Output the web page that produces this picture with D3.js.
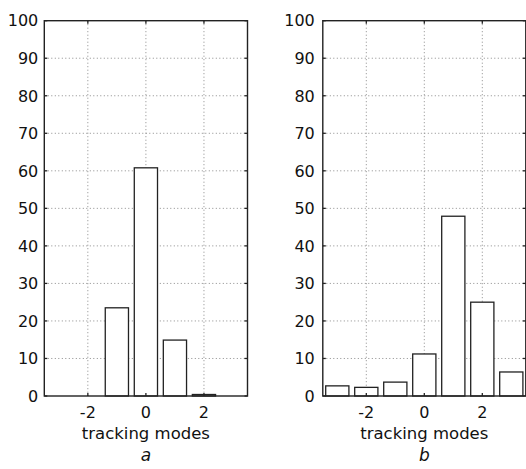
<!DOCTYPE html>
<html>
<head>
<meta charset="utf-8">
<script src="https://cdn.jsdelivr.net/npm/d3@7"></script>
<style>
  body { margin: 0; background: #fff; }
  svg { display: block; }
  text { font-family: "DejaVu Sans", sans-serif; fill: #111; }
</style>
</head>
<body>
<svg id="chart" width="526" height="469"></svg>
<script>
// tracking modes on the x axis
const modes = [-3, -2, -1, 0, 1, 2, 3];
// percentages for each panel
const valuesA = [0, 0, 23.5, 60.8, 14.9, 0.4, 0];
const valuesB = [2.7, 2.3, 3.7, 11.2, 47.9, 25.0, 6.4];
const xTicks = [-2, 0, 2];
const yTicks = [0, 10, 20, 30, 40, 50, 60, 70, 80, 90, 100];
const panelNames = ["a", "b"];

const svg = d3.select("#chart");

// plot area for each panel
const panels = [
  { left: 44.3, right: 247.5, values: valuesA, name: panelNames[0], gap: 6 },
  { left: 322.8, right: 525.8, values: valuesB, name: panelNames[1], gap: 8 }
];
const plotTop = 20.7, plotBottom = 396;
const tickLen = 3;

panels.forEach(p => {
  const x = d3.scaleLinear().domain([-3.5, 3.5]).range([p.left, p.right]);
  const y = d3.scaleLinear().domain([0, 100]).range([plotBottom, plotTop]);
  const g = svg.append("g");

  // dotted grid
  g.selectAll(".gx")
    .data(xTicks)
    .enter()
    .append("line")
    .attr("x1", d => x(d)).attr("x2", d => x(d))
    .attr("y1", plotTop).attr("y2", plotBottom)
    .attr("stroke", "#8a8a8a")
    .attr("stroke-width", 1)
    .attr("stroke-dasharray", "1,2.5");

  g.selectAll(".gy")
    .data(yTicks.slice(1, -1))
    .enter()
    .append("line")
    .attr("x1", p.left).attr("x2", p.right)
    .attr("y1", d => y(d)).attr("y2", d => y(d))
    .attr("stroke", "#8a8a8a")
    .attr("stroke-width", 1)
    .attr("stroke-dasharray", "1,2.5");

  // bars
  const bw = x(0.4) - x(-0.4);
  g.selectAll("rect")
    .data(modes)
    .enter()
    .append("rect")
    .attr("x", (d) => x(d) - bw / 2)
    .attr("y", (d, i) => y(p.values[i]))
    .attr("width", bw)
    .attr("height", (d, i) => plotBottom - y(p.values[i]))
    .attr("fill", "#fff")
    .attr("stroke", "#222")
    .attr("stroke-width", 1.3);

  // inward tick marks (top/bottom and left/right)
  xTicks.forEach(t => {
    g.append("line").attr("x1", x(t)).attr("x2", x(t))
      .attr("y1", plotTop).attr("y2", plotTop + tickLen)
      .attr("stroke", "#222").attr("stroke-width", 1.3);
    g.append("line").attr("x1", x(t)).attr("x2", x(t))
      .attr("y1", plotBottom).attr("y2", plotBottom - tickLen)
      .attr("stroke", "#222").attr("stroke-width", 1.3);
  });
  yTicks.forEach(t => {
    g.append("line").attr("x1", p.left).attr("x2", p.left + tickLen)
      .attr("y1", y(t)).attr("y2", y(t))
      .attr("stroke", "#222").attr("stroke-width", 1.3);
    g.append("line").attr("x1", p.right).attr("x2", p.right - tickLen)
      .attr("y1", y(t)).attr("y2", y(t))
      .attr("stroke", "#222").attr("stroke-width", 1.3);
  });

  // frame
  g.append("rect")
    .attr("x", p.left).attr("y", plotTop)
    .attr("width", p.right - p.left).attr("height", plotBottom - plotTop)
    .attr("fill", "none")
    .attr("stroke", "#222")
    .attr("stroke-width", 1.4);

  // y tick labels
  g.selectAll(".yl")
    .data(yTicks)
    .enter()
    .append("text")
    .attr("x", p.left - p.gap)
    .attr("y", d => y(d))
    .attr("dy", "0.36em")
    .attr("text-anchor", "end")
    .style("font-size", "16px")
    .text(d => d);

  // x tick labels
  g.selectAll(".xl")
    .data(xTicks)
    .enter()
    .append("text")
    .attr("x", d => x(d))
    .attr("y", 418)
    .attr("text-anchor", "middle")
    .style("font-size", "16px")
    .text(d => d);

  // axis label
  g.append("text")
    .attr("x", x(0))
    .attr("y", 439)
    .attr("text-anchor", "middle")
    .style("font-size", "16.5px")
    .text("tracking modes");

  // panel letter
  g.append("text")
    .attr("x", x(0))
    .attr("y", 461)
    .attr("text-anchor", "middle")
    .style("font-size", "17px")
    .style("font-style", "italic")
    .text(p.name);
});
</script>
</body>
</html>
